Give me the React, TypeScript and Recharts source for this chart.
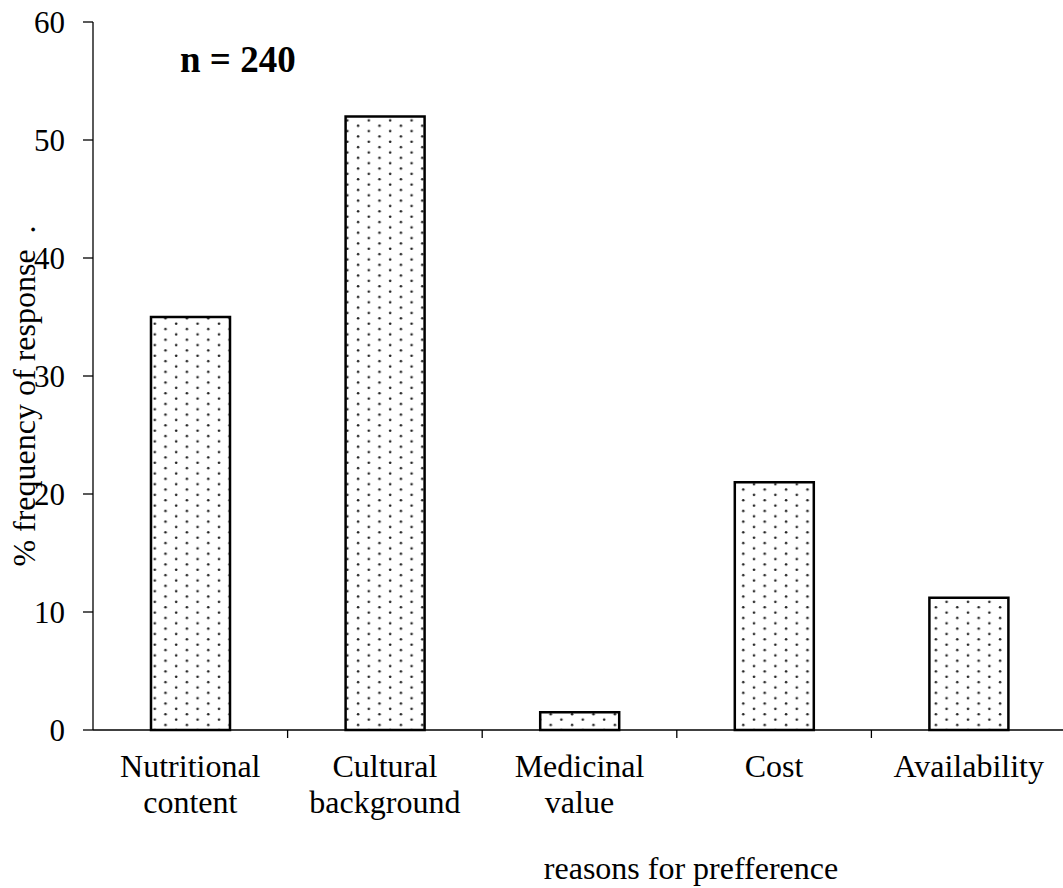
import { BarChart, Bar, XAxis, YAxis, Customized } from 'recharts';

// reasons, each split into the two lines shown under the axis
const categoryLines: string[][] = [
  ['Nutritional', 'content'],
  ['Cultural', 'background'],
  ['Medicinal', 'value'],
  ['Cost'],
  ['Availability'],
];
const responsePct = [35, 52, 1.5, 21, 11.2];
const yTicks = [0, 10, 20, 30, 40, 50, 60];

const FONT = '"Liberation Serif", "Times New Roman", serif';

const chartData = categoryLines.map((lines, i) => ({
  reason: lines.join(' '),
  pct: responsePct[i],
}));

const CategoryTick = (props: any) => {
  const { x, y, payload, index } = props;
  const half = payload && payload.offset != null ? payload.offset : 97;
  const lines = categoryLines[index] || [String(payload.value)];
  return (
    <g>
      {index > 0 && (
        <line x1={x - half} y1={y} x2={x - half} y2={y + 8} stroke="#000" strokeWidth={1.3} />
      )}
      {lines.map((t, i) => (
        <text
          key={i}
          x={x}
          y={y + 47 + i * 36}
          textAnchor="middle"
          fontFamily={FONT}
          fontSize={32}
          fill="#000"
        >
          {t}
        </text>
      ))}
    </g>
  );
};

export default function App() {
  return (
    <div style={{ position: 'absolute', left: 0, top: 0, width: 1063, height: 888, overflow: 'hidden', background: '#fff' }}>
      <BarChart
        width={1070}
        height={888}
        data={chartData}
        margin={{ top: 22, right: 4, left: 0, bottom: 98 }}
        barSize={79}
      >
        <defs>
          <pattern id="dots" width={21.4} height={10.7} patternUnits="userSpaceOnUse">
            <rect width={21.4} height={10.7} fill="#fff" />
            <circle cx={5} cy={2.7} r={1.3} fill="#222" />
            <circle cx={15.7} cy={8} r={1.3} fill="#222" />
          </pattern>
        </defs>
        <XAxis
          dataKey="reason"
          height={60}
          tickSize={0}
          tickMargin={0}
          tickLine={false}
          axisLine={{ stroke: '#000', strokeWidth: 1.3 }}
          tick={<CategoryTick />}
          interval={0}
          label={{
            content: () => (
              <text x={691} y={879} textAnchor="middle" fontFamily={FONT} fontSize={32} fill="#000">
                reasons for prefference
              </text>
            ),
          }}
        />
        <YAxis
          width={93}
          domain={[0, 60]}
          ticks={yTicks}
          interval={0}
          tickSize={10}
          tickMargin={18}
          axisLine={{ stroke: '#000', strokeWidth: 1.3 }}
          tickLine={{ stroke: '#000', strokeWidth: 1.3 }}
          tick={{ fontFamily: FONT, fontSize: 31, fill: '#000' }}
          label={{
            content: () => (
              <text
                x={24}
                y={396}
                transform="rotate(-90 24 396)"
                textAnchor="middle"
                dominantBaseline="central"
                fontFamily={FONT}
                fontSize={32}
                fill="#000"
                style={{ whiteSpace: 'pre' }}
              >
                {'% frequency of response  .'}
              </text>
            ),
          }}
        />
        <Bar
          dataKey="pct"
          fill="url(#dots)"
          stroke="#000"
          strokeWidth={2.5}
          isAnimationActive={false}
        />
        <Customized
          component={() => (
            <text x={180} y={72} fontFamily={FONT} fontSize={37} fontWeight="bold" fill="#000">
              n = 240
            </text>
          )}
        />
      </BarChart>
    </div>
  );
}
